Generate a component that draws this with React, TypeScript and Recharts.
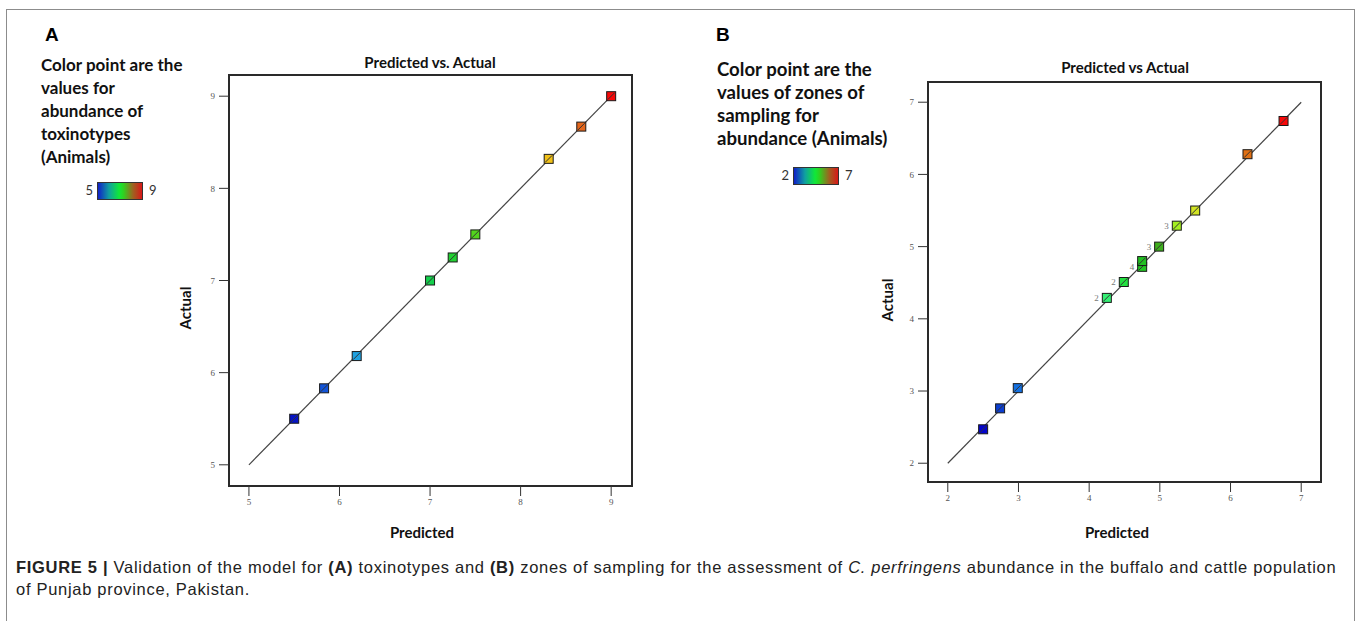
import React from "react";
import {
  ScatterChart,
  Scatter,
  XAxis,
  YAxis,
  ReferenceLine,
  ReferenceArea,
} from "recharts";

// Panel A: toxinotypes
const predictedA = [5.5, 5.83, 6.19, 7.0, 7.25, 7.5, 8.31, 8.67, 9.0];
const actualA = [5.5, 5.83, 6.18, 7.0, 7.25, 7.5, 8.32, 8.67, 9.0];
const ticksA = [5, 6, 7, 8, 9];
const fitA = [5, 9];

// Panel B: zones of sampling
const predictedB = [2.5, 2.74, 2.99, 4.25, 4.49, 4.75, 4.75, 4.99, 5.24, 5.5, 6.24, 6.75];
const actualB = [2.47, 2.76, 3.04, 4.29, 4.51, 4.72, 4.8, 5.0, 5.29, 5.5, 6.28, 6.74];
const repeatsB = ["", "", "", "2", "2", "4", "", "3", "3", "", "", ""];
const ticksB = [2, 3, 4, 5, 6, 7];
const fitB = [2, 7];

// point colours (value colour map of the original software)
const colorsA = ["#0614c4", "#1254d8", "#1fa2e2", "#14cf4c", "#22d032", "#52d41c", "#f0c018", "#e4661c", "#f80808"];
const colorsB = ["#0404cc", "#0c3ed0", "#1470e0", "#34f074", "#22e040", "#22c622", "#22c022", "#3eae1e", "#a4f020", "#d2e424", "#e07014", "#f80808"];

type Row = { x: number; y: number; color: string; rep: string };

const rowsA: Row[] = predictedA.map((x, i) => ({ x, y: actualA[i], color: colorsA[i], rep: "" }));
const rowsB: Row[] = predictedB.map((x, i) => ({ x, y: actualB[i], color: colorsB[i], rep: repeatsB[i] }));

const tickStyle = { fontSize: 9, fill: "#555", fontFamily: "'Liberation Serif', serif" };

function Marker(props: any) {
  const { cx, cy, payload } = props;
  if (cx == null || cy == null) return null;
  return (
    <g>
      <rect x={cx - 4.5} y={cy - 4.5} width={9} height={9} fill={payload.color} stroke="#1a1a1a" strokeWidth={1} />
      <line x1={cx - 3.5} y1={cy + 3.5} x2={cx + 3.5} y2={cy - 3.5} stroke="#333" strokeWidth={1} />
      {payload.rep ? (
        <text x={cx - 8} y={cy + 3} textAnchor="end" fontSize={9} fill="#777" fontFamily="'Liberation Serif', serif">
          {payload.rep}
        </text>
      ) : null}
    </g>
  );
}

interface PanelProps {
  rows: Row[];
  xDomain: [number, number];
  yDomain: [number, number];
  ticks: number[];
  fit: number[];
  left: number;
  margin: { top: number; right: number; bottom: number; left: number };
}

function Panel({ rows, xDomain, yDomain, ticks, fit, left, margin }: PanelProps) {
  return (
    <div style={{ position: "absolute", left, top: 0 }}>
      <ScatterChart width={680} height={560} margin={margin}>
        <XAxis
          dataKey="x"
          type="number"
          domain={xDomain}
          allowDataOverflow
          ticks={ticks}
          interval={0}
          tick={tickStyle}
          tickSize={10}
          tickMargin={3}
          axisLine={false}
          tickLine={{ stroke: "#333" }}
          height={30}
        />
        <YAxis
          dataKey="y"
          type="number"
          domain={yDomain}
          allowDataOverflow
          ticks={ticks}
          interval={0}
          tick={tickStyle}
          tickSize={10}
          tickMargin={4}
          axisLine={false}
          tickLine={{ stroke: "#333" }}
          width={40}
        />
        <ReferenceArea
          x1={xDomain[0]}
          x2={xDomain[1]}
          y1={yDomain[0]}
          y2={yDomain[1]}
          fill="none"
          stroke="#2a2a2a"
          strokeWidth={2}
          ifOverflow="visible"
        />
        <ReferenceLine
          segment={[{ x: fit[0], y: fit[0] }, { x: fit[1], y: fit[1] }]}
          stroke="#444"
          strokeWidth={1.2}
          ifOverflow="visible"
        />
        <Scatter data={rows} shape={Marker} isAnimationActive={false} />
      </ScatterChart>
    </div>
  );
}

const legendFont = "Lato, 'Open Sans', sans-serif";

function abs(left: number, top: number, extra: React.CSSProperties = {}): React.CSSProperties {
  return { position: "absolute", left, top, whiteSpace: "nowrap", ...extra };
}

function ColorBar({ left, top, lo, hi }: { left: number; top: number; lo: string; hi: string }) {
  return (
    <>
      <div style={abs(left - 16, top, { width: 12, textAlign: "right", fontFamily: legendFont, fontSize: 13, lineHeight: "17px", color: "#333" })}>{lo}</div>
      <div
        style={abs(left, top, {
          width: 44,
          height: 16,
          border: "1px solid #333",
          background: "linear-gradient(to right, #1020c8 0%, #10a0a0 25%, #10e838 48%, #30d020 58%, #a06020 80%, #d81818 100%)",
        })}
      />
      <div style={abs(left + 52, top, { fontFamily: legendFont, fontSize: 13, lineHeight: "17px", color: "#333" })}>{hi}</div>
    </>
  );
}

export default function App() {
  const label: React.CSSProperties = { fontFamily: legendFont, fontWeight: 700, fontSize: 15, color: "#111" };
  return (
    <div style={{ position: "absolute", left: 0, top: 0, width: 1360, height: 621, overflow: "hidden", background: "#fff" }}>
      <div style={abs(6, 9, { width: 1347, height: 700, border: "1px solid #8c8c8c" })} />

      <Panel
        rows={rowsA}
        xDomain={[4.78, 9.23]}
        yDomain={[4.77, 9.23]}
        ticks={ticksA}
        fit={fitA}
        left={0}
        margin={{ top: 75, right: 48, bottom: 44, left: 189 }}
      />
      <Panel
        rows={rowsB}
        xDomain={[1.72, 7.28]}
        yDomain={[1.74, 7.28]}
        ticks={ticksB}
        fit={fitB}
        left={680}
        margin={{ top: 82, right: 39, bottom: 48, left: 208 }}
      />

      {/* panel A texts */}
      <div style={abs(45, 24, { fontFamily: "'Liberation Sans', Arial, sans-serif", fontWeight: 700, fontSize: 19, lineHeight: "22px" })}>A</div>
      <div style={abs(41, 53, { fontFamily: legendFont, fontWeight: 700, fontSize: 17, lineHeight: "23px", color: "#111" })}>
        Color point are the
        <br />
        values for
        <br />
        abundance of
        <br />
        toxinotypes
        <br />
        (Animals)
      </div>
      <ColorBar left={97} top={182} lo="5" hi="9" />
      <div style={abs(330, 52, { ...label, width: 200, textAlign: "center", lineHeight: "20px" })}>Predicted vs. Actual</div>
      <div style={abs(322, 522, { ...label, width: 200, textAlign: "center", lineHeight: "20px" })}>Predicted</div>
      <div style={abs(185, 308, { ...label, lineHeight: "20px", transform: "translate(-50%, -50%) rotate(-90deg)" })}>Actual</div>

      {/* panel B texts */}
      <div style={abs(716, 24, { fontFamily: "'Liberation Sans', Arial, sans-serif", fontWeight: 700, fontSize: 19, lineHeight: "22px" })}>B</div>
      <div style={abs(717, 58, { fontFamily: legendFont, fontWeight: 700, fontSize: 18.6, lineHeight: "23px", color: "#111" })}>
        Color point are the
        <br />
        values of zones of
        <br />
        sampling for
        <br />
        abundance (Animals)
      </div>
      <ColorBar left={793} top={167} lo="2" hi="7" />
      <div style={abs(1025, 57, { ...label, width: 200, textAlign: "center", lineHeight: "20px" })}>Predicted vs Actual</div>
      <div style={abs(1017, 522, { ...label, width: 200, textAlign: "center", lineHeight: "20px" })}>Predicted</div>
      <div style={abs(887, 300, { ...label, lineHeight: "20px", transform: "translate(-50%, -50%) rotate(-90deg)" })}>Actual</div>

      {/* caption */}
      <div
        style={abs(16, 556, {
          fontFamily: "'Liberation Sans', Arial, sans-serif",
          fontSize: 16.5,
          letterSpacing: "0.7px",
          lineHeight: "22px",
          color: "#222",
        })}
      >
        <b>FIGURE 5 |</b> Validation of the model for <b>(A)</b> toxinotypes and <b>(B)</b> zones of sampling for the
        assessment of <i>C. perfringens</i> abundance in the buffalo and cattle population
        <br />
        of Punjab province, Pakistan.
      </div>
    </div>
  );
}
